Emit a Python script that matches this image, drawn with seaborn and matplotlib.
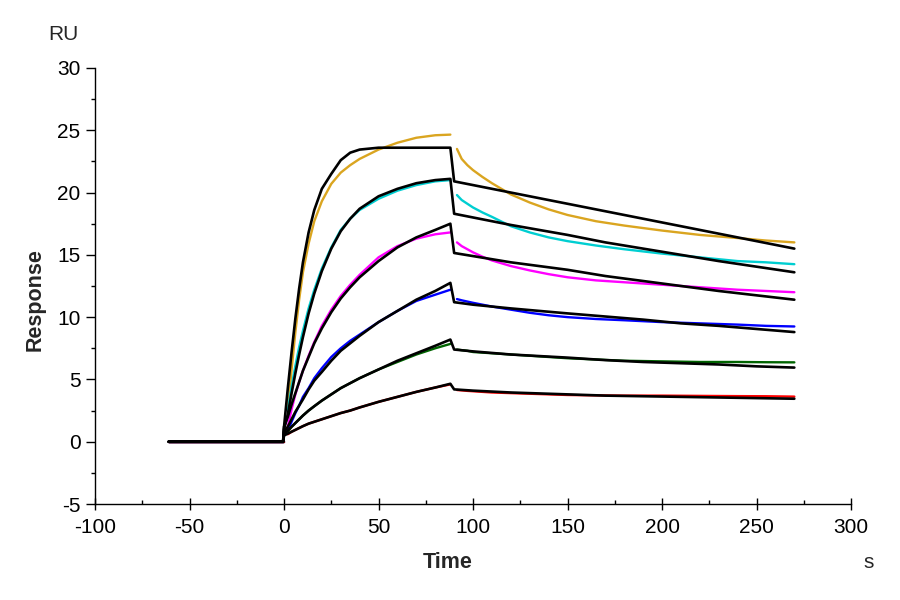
import numpy as np
import pandas as pd
import matplotlib
matplotlib.use("Agg")
import matplotlib.pyplot as plt
import seaborn as sns
from matplotlib.ticker import MultipleLocator

# ---------------- data ----------------
base_t = [-61, 0]
assoc_t = [2, 4, 6, 8, 10, 13, 16, 20, 25, 30, 35, 40, 50, 60, 70, 80, 88]
dissoc_t = [91.5, 94, 97, 100, 105, 110, 120, 130, 140, 150, 165, 180, 200, 220, 240, 255, 270]
fit_assoc_t = [0, 2, 4, 6, 8, 10, 13, 16, 20, 25, 30, 35, 40, 50, 60, 70, 80, 88]
fit_dissoc_t = [90, 100, 120, 150, 170, 190, 210, 230, 250, 270]

curve_names = ["orange", "cyan", "magenta", "blue", "green", "red"]
curve_colors = ["#DAA520", "#00CED1", "#FF00FF", "#0000FF", "#006400", "#FF0000"]

orange_assoc = [2.5, 5.8, 8.8, 11.4, 13.6, 15.9, 17.7, 19.3, 20.7, 21.6, 22.2, 22.7, 23.45, 24.0, 24.4, 24.6, 24.65]
orange_dissoc = [23.5, 22.7, 22.2, 21.8, 21.25, 20.75, 19.85, 19.2, 18.65, 18.2, 17.7, 17.35, 16.95, 16.6, 16.35, 16.15, 16.0]
cyan_assoc = [2.5, 4.4, 6.1, 7.6, 8.9, 10.7, 12.2, 13.9, 15.6, 17.0, 17.9, 18.6, 19.5, 20.15, 20.6, 20.9, 21.0]
cyan_dissoc = [19.8, 19.4, 19.1, 18.8, 18.4, 18.05, 17.3, 16.8, 16.4, 16.1, 15.75, 15.45, 15.1, 14.8, 14.5, 14.4, 14.25]
magenta_assoc = [1.2, 2.6, 3.8, 4.8, 5.7, 6.9, 8.0, 9.3, 10.6, 11.7, 12.6, 13.4, 14.8, 15.7, 16.3, 16.65, 16.8]
magenta_dissoc = [16.0, 15.7, 15.45, 15.2, 14.85, 14.55, 14.1, 13.75, 13.45, 13.2, 12.95, 12.8, 12.6, 12.4, 12.2, 12.1, 12.0]
blue_assoc = [0.9, 1.6, 2.3, 2.9, 3.6, 4.3, 5.1, 5.9, 6.8, 7.5, 8.1, 8.6, 9.6, 10.5, 11.3, 11.8, 12.2]
blue_dissoc = [11.45, 11.35, 11.25, 11.15, 11.0, 10.85, 10.6, 10.35, 10.15, 10.0, 9.85, 9.75, 9.6, 9.5, 9.4, 9.3, 9.25]
green_assoc = [0.8, 1.2, 1.5, 1.8, 2.1, 2.5, 2.85, 3.3, 3.8, 4.3, 4.7, 5.1, 5.8, 6.4, 7.0, 7.5, 7.85]
green_dissoc = [7.4, 7.35, 7.3, 7.2, 7.15, 7.1, 7.0, 6.9, 6.8, 6.7, 6.6, 6.5, 6.45, 6.4, 6.4, 6.38, 6.37]
red_assoc = [0.6, 0.8, 0.95, 1.1, 1.25, 1.45, 1.6, 1.8, 2.05, 2.3, 2.5, 2.75, 3.2, 3.6, 4.0, 4.35, 4.6]
red_dissoc = [4.15, 4.12, 4.08, 4.05, 4.0, 3.95, 3.9, 3.85, 3.8, 3.75, 3.72, 3.7, 3.7, 3.68, 3.66, 3.65, 3.62]

orange_fit_assoc = [1.2, 4.3, 7.2, 9.9, 12.3, 14.4, 16.8, 18.6, 20.3, 21.5, 22.6, 23.2, 23.45, 23.6, 23.6, 23.6, 23.6, 23.6]
orange_fit_dissoc = [20.9, 20.6, 20.0, 19.1, 18.5, 17.9, 17.3, 16.7, 16.1, 15.5]
cyan_fit_assoc = [1.0, 2.2, 3.9, 5.5, 7.0, 8.4, 10.3, 11.9, 13.7, 15.5, 16.9, 17.9, 18.7, 19.7, 20.3, 20.75, 21.0, 21.1]
cyan_fit_dissoc = [18.3, 18.0, 17.4, 16.6, 16.0, 15.5, 15.0, 14.5, 14.05, 13.6]
magenta_fit_assoc = [1.2, 2.0, 3.0, 3.9, 4.8, 5.7, 6.8, 7.9, 9.1, 10.4, 11.5, 12.4, 13.2, 14.5, 15.6, 16.4, 17.0, 17.5]
magenta_fit_dissoc = [15.15, 14.9, 14.4, 13.8, 13.3, 12.9, 12.5, 12.1, 11.75, 11.4]
blue_fit_assoc = [0.8, 1.2, 1.8, 2.4, 2.9, 3.4, 4.2, 4.9, 5.6, 6.5, 7.3, 7.9, 8.5, 9.6, 10.5, 11.4, 12.1, 12.75]
blue_fit_dissoc = [11.2, 11.0, 10.7, 10.3, 10.05, 9.8, 9.5, 9.3, 9.05, 8.8]
green_fit_assoc = [0.6, 0.9, 1.2, 1.5, 1.8, 2.1, 2.5, 2.85, 3.3, 3.8, 4.3, 4.7, 5.1, 5.8, 6.5, 7.1, 7.7, 8.2]
green_fit_dissoc = [7.4, 7.25, 7.0, 6.75, 6.55, 6.4, 6.3, 6.2, 6.05, 5.95]
red_fit_assoc = [0.5, 0.65, 0.8, 0.95, 1.1, 1.25, 1.45, 1.6, 1.8, 2.05, 2.3, 2.5, 2.75, 3.2, 3.6, 4.0, 4.35, 4.65]
red_fit_dissoc = [4.2, 4.1, 3.95, 3.8, 3.7, 3.65, 3.6, 3.55, 3.5, 3.45]

data_assoc = [orange_assoc, cyan_assoc, magenta_assoc, blue_assoc, green_assoc, red_assoc]
data_dissoc = [orange_dissoc, cyan_dissoc, magenta_dissoc, blue_dissoc, green_dissoc, red_dissoc]
fit_assoc = [orange_fit_assoc, cyan_fit_assoc, magenta_fit_assoc, blue_fit_assoc, green_fit_assoc, red_fit_assoc]
fit_dissoc = [orange_fit_dissoc, cyan_fit_dissoc, magenta_fit_dissoc, blue_fit_dissoc, green_fit_dissoc, red_fit_dissoc]

# ---------------- build long tables ----------------
rows = []
for name, a, d in zip(curve_names, data_assoc, data_dissoc):
    for t in base_t:
        rows.append((name, f"{name}-base", t, 0.0))
    for t, v in zip(assoc_t, a):
        rows.append((name, f"{name}-assoc", t, v))
    for t, v in zip(dissoc_t, d):
        rows.append((name, f"{name}-dissoc", t, v))
data_df = pd.DataFrame(rows, columns=["curve", "seg", "time", "resp"])

frows = []
for name, a, d in zip(curve_names, fit_assoc, fit_dissoc):
    ts = [-61, -0.5] + fit_assoc_t + fit_dissoc_t
    vs = [0.0, 0.0] + list(a) + list(d)
    for t, v in zip(ts, vs):
        frows.append((name, t, v))
fit_df = pd.DataFrame(frows, columns=["curve", "time", "resp"])

# ---------------- plot ----------------
sns.set_theme(style="ticks")
plt.rcParams["font.family"] = ["Liberation Sans", "DejaVu Sans"]
plt.rcParams["axes.unicode_minus"] = False

fig = plt.figure(figsize=(9, 6), dpi=100)
ax = fig.add_axes([0.1056, 0.16, 0.8400, 0.7267])

sns.lineplot(data=data_df, x="time", y="resp", hue="curve", units="seg",
             estimator=None, sort=False, palette=dict(zip(curve_names, curve_colors)),
             linewidth=1.7, legend=False, ax=ax)
sns.lineplot(data=fit_df, x="time", y="resp", units="curve", estimator=None,
             sort=False, color="black", linewidth=1.9, legend=False, ax=ax)

ax.set_xlim(-100, 300)
ax.set_ylim(-5, 30)
ax.xaxis.set_major_locator(MultipleLocator(50))
ax.xaxis.set_minor_locator(MultipleLocator(25))
ax.yaxis.set_major_locator(MultipleLocator(5))
ax.yaxis.set_minor_locator(MultipleLocator(2.5))
sns.despine(ax=ax)
for s in ["left", "bottom"]:
    ax.spines[s].set_linewidth(1.0)
    ax.spines[s].set_color("black")

ax.tick_params(axis="x", which="major", direction="inout", length=8, width=1,
               labelsize=15, pad=6, colors="black")
ax.tick_params(axis="x", which="minor", direction="in", length=3, width=1, colors="black")
ax.tick_params(axis="y", which="major", direction="out", length=6.5, width=1,
               labelsize=15, pad=4, colors="black")
ax.tick_params(axis="y", which="minor", direction="out", length=3, width=1, colors="black")
ax.set_xlabel("")
ax.set_ylabel("")

fig.text(0.070, 0.942, "RU", fontsize=15, ha="center", va="center")
fig.text(0.965, 0.062, "s", fontsize=15, ha="center", va="center")
fig.text(0.039, 0.50, "Response", fontsize=15.5, fontweight="bold",
         rotation=90, ha="center", va="center")
fig.text(0.497, 0.063, "Time", fontsize=15.5, fontweight="bold",
         ha="center", va="center")

fig.savefig("out.png", dpi=100, facecolor="white")
